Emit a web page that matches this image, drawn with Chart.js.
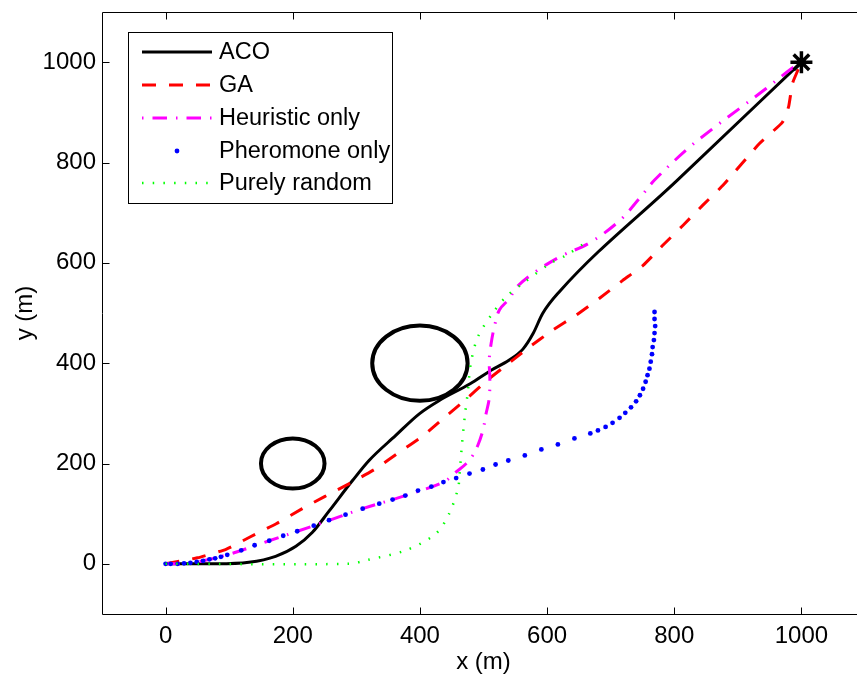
<!DOCTYPE html>
<html>
<head>
<meta charset="utf-8">
<script src="https://cdn.jsdelivr.net/npm/chart.js@4.4.1/dist/chart.umd.min.js"></script>
<style>
  html, body { margin: 0; padding: 0; background: #fff; overflow: hidden; }
  #wrap { width: 880px; height: 678px; }
</style>
</head>
<body>
<div id="wrap"><canvas id="myChart" width="880" height="678"></canvas></div>
<script>
// tick labels
const xTicks = [0, 200, 400, 600, 800, 1000];
const yTicks = [0, 200, 400, 600, 800, 1000];
const seriesNames = ["ACO", "GA", "Heuristic only", "Pheromone only", "Purely random"];

// paths
const acoX = [0, 80, 131, 173, 205, 231, 257, 294, 320, 362, 399, 431, 479, 512, 540, 562, 578, 593, 619, 805, 1000];
const acoY = [0, 0, 3, 15, 35, 63, 105, 166, 206, 256, 299, 326, 359, 386, 406, 428, 459, 499, 542, 765, 1000];

const gaX = [0, 50, 95, 132, 174, 215, 250, 289, 331, 368, 404, 436, 467, 509, 538, 572, 609, 646, 682, 719, 751, 782, 814, 845, 877, 934, 970, 980, 986, 1000];
const gaY = [0, 12, 29, 53, 80, 110, 134, 160, 190, 223, 254, 289, 322, 369, 398, 432, 466, 496, 529, 565, 595, 635, 675, 715, 755, 838, 880, 912, 958, 1000];

const heuX = [0, 40, 97, 163, 233, 310, 377, 437, 457, 473, 483, 491, 499, 504, 509, 510, 509, 512, 517, 525, 541, 551, 578, 620, 667, 714, 745, 769, 819, 861, 903, 945, 982, 1000];
const heuY = [0, 2, 18, 46, 76, 110, 136, 163, 183, 200, 216, 236, 266, 299, 330, 370, 406, 439, 472, 506, 529, 550, 579, 612, 640, 684, 728, 765, 825, 868, 908, 948, 985, 1000];

const pheX = [0, 8, 19, 29, 39, 49, 59, 69, 78, 87, 97, 119, 140, 163, 185, 207, 233, 257, 283, 310, 336, 357, 377, 397, 418, 437, 457, 478, 499, 519, 539, 565, 591, 617, 643, 668, 680, 692, 703, 714, 723, 732, 740, 746, 751, 755, 758, 761, 763, 765, 766, 768, 769, 770, 769, 769];
const pheY = [0, 0, 0, 1, 2, 4, 6, 9, 11, 14, 18, 27, 37, 46, 56, 65, 76, 87, 98, 110, 120, 128, 136, 146, 154, 163, 171, 180, 188, 198, 206, 216, 228, 238, 250, 260, 266, 273, 281, 291, 301, 312, 324, 336, 349, 363, 376, 389, 403, 418, 432, 446, 460, 474, 488, 502];

const rndX = [0, 290, 315, 378, 425, 446, 460, 462, 466, 471, 475, 480, 491, 514, 536, 562, 604, 630, 659];
const rndY = [0, 0, 7, 27, 60, 100, 150, 173, 236, 299, 339, 399, 452, 499, 533, 559, 598, 615, 639];

const goalX = [1000];
const goalY = [1000];

// circular obstacles (centre and radius, data units)
const obstacleX = [200, 400];
const obstacleY = [200, 400];
const obstacleR = [50, 75];

const FONT = '"Liberation Sans", Arial, Helvetica, sans-serif';

function toPoints(xs, ys) {
  return xs.map((x, i) => ({ x: x, y: ys[i] }));
}

const obstaclePlugin = {
  id: "obstacles",
  beforeDatasetsDraw(chart) {
    const { ctx, scales: { x, y } } = chart;
    ctx.save();
    ctx.strokeStyle = "#000";
    ctx.lineWidth = 4;
    for (let i = 0; i < obstacleX.length; i++) {
      const cx = x.getPixelForValue(obstacleX[i]);
      const cy = y.getPixelForValue(obstacleY[i]);
      const rx = Math.abs(x.getPixelForValue(obstacleX[i] + obstacleR[i]) - cx);
      const ry = Math.abs(y.getPixelForValue(obstacleY[i] + obstacleR[i]) - cy);
      ctx.beginPath();
      ctx.ellipse(cx, cy, rx, ry, 0, 0, Math.PI * 2);
      ctx.stroke();
    }
    ctx.restore();
  }
};

const legendPlugin = {
  id: "boxLegend",
  afterDatasetsDraw(chart) {
    const ctx = chart.ctx;
    const left = 128, top = 32, w = 264, h = 171;
    ctx.save();
    ctx.fillStyle = "#fff";
    ctx.fillRect(left, top, w, h);
    ctx.strokeStyle = "#000";
    ctx.lineWidth = 1;
    ctx.strokeRect(left + 0.5, top + 0.5, w, h);
    ctx.font = "23.5px " + FONT;
    ctx.textBaseline = "middle";
    ctx.fillStyle = "#000";
    const rowY = [52, 85, 118, 151, 183];
    seriesNames.forEach((name, i) => {
      const ds = chart.data.datasets[i];
      const y = rowY[i];
      if (ds.showLine === false) {
        ctx.beginPath();
        ctx.fillStyle = ds.pointBackgroundColor;
        ctx.arc(177, y, ds.pointRadius, 0, Math.PI * 2);
        ctx.fill();
      } else {
        ctx.beginPath();
        ctx.strokeStyle = ds.borderColor;
        ctx.lineWidth = ds.borderWidth;
        ctx.setLineDash(ds.borderDash || []);
        ctx.lineDashOffset = ds.legendDashOffset || 0;
        ctx.moveTo(142, y);
        ctx.lineTo(212, y);
        ctx.stroke();
        ctx.setLineDash([]);
      }
      ctx.fillStyle = "#000";
      ctx.fillText(name, 219, y + 1);
    });
    ctx.restore();
  }
};

// axes box with inward ticks (the right side falls outside the window)
const framePlugin = {
  id: "frame",
  afterDraw(chart) {
    const { ctx, chartArea: a, scales: { x, y } } = chart;
    const l = Math.round(a.left) + 0.5, r = Math.round(a.right) + 0.5;
    const t = Math.round(a.top) + 0.5, b = Math.round(a.bottom) + 0.5;
    ctx.save();
    ctx.strokeStyle = "#000";
    ctx.lineWidth = 1;
    ctx.beginPath();
    ctx.moveTo(r, t); ctx.lineTo(l, t); ctx.lineTo(l, b); ctx.lineTo(r, b);
    x.ticks.forEach(tk => {
      const px = Math.round(x.getPixelForValue(tk.value)) + 0.5;
      ctx.moveTo(px, b); ctx.lineTo(px, b - 7);
      ctx.moveTo(px, t); ctx.lineTo(px, t + 7);
    });
    y.ticks.forEach(tk => {
      const py = Math.round(y.getPixelForValue(tk.value)) + 0.5;
      ctx.moveTo(l, py); ctx.lineTo(l + 7, py);
    });
    ctx.stroke();
    ctx.restore();
  }
};

const data = {
  datasets: [
    {
      label: seriesNames[0],
      data: toPoints(acoX, acoY),
      borderColor: "#000",
      borderWidth: 3,
      pointRadius: 0,
      cubicInterpolationMode: "monotone",
      order: 5
    },
    {
      label: seriesNames[1],
      data: toPoints(gaX, gaY),
      borderColor: "#ff0000",
      borderWidth: 3,
      borderDash: [14, 13],
      pointRadius: 0,
      tension: 0.15,
      order: 4
    },
    {
      label: seriesNames[2],
      data: toPoints(heuX, heuY),
      borderColor: "#ff00ff",
      borderWidth: 3,
      borderDash: [14.5, 9, 1.5, 9],
      legendDashOffset: 23.5,
      pointRadius: 0,
      tension: 0.35,
      order: 3
    },
    {
      label: seriesNames[3],
      data: toPoints(pheX, pheY),
      showLine: false,
      pointRadius: 2.4,
      pointBackgroundColor: "#0000ff",
      pointBorderWidth: 0,
      borderColor: "#0000ff",
      order: 2
    },
    {
      label: seriesNames[4],
      data: toPoints(rndX, rndY),
      borderColor: "#00ff00",
      borderWidth: 2.5,
      borderDash: [1.5, 9.2],
      pointRadius: 0,
      tension: 0.3,
      order: 1
    },
    {
      label: "goal",
      data: toPoints(goalX, goalY),
      showLine: false,
      pointStyle: "star",
      pointRadius: 11,
      pointBorderWidth: 3.5,
      pointBorderColor: "#000",
      borderColor: "#000",
      order: 0
    }
  ]
};

const config = {
  type: "line",
  data,
  options: {
    responsive: false,
    animation: false,
    devicePixelRatio: 1,
    events: [],
    layout: { autoPadding: false, padding: { top: 12, right: 15, bottom: 0, left: 0 } },
    plugins: { legend: { display: false }, tooltip: { enabled: false } },
    scales: {
      x: {
        type: "linear",
        min: -100,
        max: 1100,
        afterBuildTicks: (scale) => { scale.ticks = xTicks.map(v => ({ value: v })); },
        afterFit: (scale) => { scale.height = 64; scale.paddingLeft = 0; scale.paddingRight = 0; },
        grid: { display: false, drawTicks: false },
        border: { display: false },
        ticks: { color: "#000", padding: 8, maxRotation: 0, callback: (v) => String(v), font: { family: FONT, size: 24 } },
        title: { display: true, text: "x (m)", color: "#000", padding: { top: 0, bottom: 1 }, font: { family: FONT, size: 24 } }
      },
      y: {
        type: "linear",
        min: -100,
        max: 1100,
        afterBuildTicks: (scale) => { scale.ticks = yTicks.map(v => ({ value: v })); },
        afterFit: (scale) => { scale.width = 102; scale.paddingTop = 0; scale.paddingBottom = 0; },
        grid: { display: false, drawTicks: false },
        border: { display: false },
        ticks: { color: "#000", padding: 6, callback: (v) => String(v), font: { family: FONT, size: 24 } },
        title: { display: true, text: "y (m)", color: "#000", padding: { top: 11, bottom: 0 }, font: { family: FONT, size: 24 } }
      }
    }
  },
  plugins: [obstaclePlugin, legendPlugin, framePlugin]
};

const myChart = new Chart(document.getElementById("myChart"), config);
</script>
</body>
</html>
